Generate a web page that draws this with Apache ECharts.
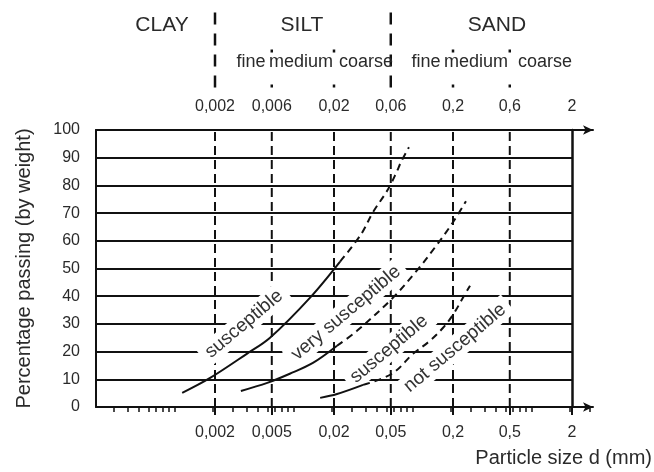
<!DOCTYPE html>
<html><head><meta charset="utf-8">
<script src="https://cdn.jsdelivr.net/npm/echarts@6/dist/echarts.min.js"></script>
<style>html,body{margin:0;padding:0;background:#fff}#c{width:654px;height:472px}</style>
</head><body><div id="c"></div>
<script>
// ---- data ----
const boundaryTicks = [0.002, 0.006, 0.02, 0.06, 0.2, 0.6, 2];
const topTickLabels = ['0,002', '0,006', '0,02', '0,06', '0,2', '0,6', '2'];
const bottomTickLabels = ['0,002', '0,005', '0,02', '0,05', '0,2', '0,5', '2'];
const majorBounds = [0.002, 0.06];
const minorBounds = [0.006, 0.02, 0.2, 0.6];
const plotBounds = [0.002, 0.006, 0.02, 0.06, 0.2, 0.6];
const soilClasses = ['CLAY', 'SILT', 'SAND'];
const subClasses = ['fine', 'medium', 'coarse', 'fine', 'medium', 'coarse'];
const zoneLabels = ['susceptible', 'very susceptible', 'susceptible', 'not susceptible'];

const curveA_solid_d = [0.00106, 0.00182, 0.0037, 0.0058, 0.0126, 0.0225];
const curveA_solid_p = [5.1, 10.5, 19.2, 25.0, 39.5, 52.5];
const curveA_dash_d = [0.0225, 0.0337, 0.0425, 0.0569, 0.0676, 0.0731, 0.0853];
const curveA_dash_p = [52.5, 62.3, 70.3, 78.6, 85.1, 88.4, 93.8];

const curveB_solid_d = [0.0033, 0.0055, 0.0085, 0.0133, 0.0212];
const curveB_solid_p = [5.8, 8.7, 12.0, 15.9, 22.1];
const curveB_dash_d = [0.0212, 0.0312, 0.0614, 0.0996, 0.141, 0.2, 0.257];
const curveB_dash_p = [22.1, 27.5, 39.1, 49.3, 57.6, 66.7, 74.3];

const curveC_solid_d = [0.0153, 0.0212, 0.0351];
const curveC_solid_p = [3.3, 4.7, 8.0];
const curveC_dash_d = [0.0351, 0.0614, 0.0923, 0.128, 0.165, 0.2, 0.243, 0.278];
const curveC_dash_p = [8.0, 12.0, 19.2, 23.9, 28.6, 33.3, 39.5, 43.8];

// ---- helpers ----
const FONT = '"Liberation Sans", Arial, sans-serif';
const INK = '#111';
const TXT = '#2a2a2a';
const pairs = (xs, ys) => xs.map((x, i) => [x, ys[i]]);
const labelFor = (labels) => (v) => {
  const i = boundaryTicks.findIndex(t => Math.abs(Math.log10(t) - Math.log10(v)) < 0.01);
  return i >= 0 ? labels[i] : '';
};
function curve(xs, ys, dashed) {
  return {
    type: 'line', xAxisIndex: 0, yAxisIndex: 0, data: pairs(xs, ys),
    smooth: 0.35, showSymbol: false, symbol: 'none', z: 4, silent: true,
    lineStyle: { color: INK, width: 2, type: dashed ? [7, 5] : 'solid' }
  };
}
function vlines(values, xi, yi, lo, hi, style, z) {
  return values.map(v => ({
    type: 'line', xAxisIndex: xi, yAxisIndex: yi, data: [[v, lo], [v, hi]], z: z, silent: true,
    symbol: 'none', showSymbol: false, lineStyle: style
  }));
}

const chart = echarts.init(document.getElementById('c'));
const rot = 40 * Math.PI / 180;
const zonePos = [[244, 324], [346, 313], [389, 349], [455, 348]];
const classPos = [[162, 25], [302, 25], [497, 25]];
const subPos = [251, 301, 366, 426, 476, 545];

chart.setOption({
  animation: false,
  backgroundColor: '#fff',
  grid: [
    { left: 96, right: 82, top: 130, bottom: 65 },
    { left: 96, right: 82, top: 4, height: 88 },
    { left: 96, right: 61, top: 130, bottom: 65 }
  ],
  xAxis: [
    { gridIndex: 0, type: 'log', min: 0.0002, max: 2, position: 'bottom',
      axisLine: { show: false }, splitLine: { show: false }, minorTick: { show: false },
      axisTick: { show: true, customValues: boundaryTicks, length: 8, lineStyle: { color: INK, width: 2 } },
      axisLabel: { customValues: boundaryTicks, formatter: labelFor(bottomTickLabels), margin: 18,
        fontSize: 16, fontFamily: FONT, color: TXT } },
    { gridIndex: 0, type: 'log', min: 0.0002, max: 2, position: 'top',
      axisLine: { show: false }, splitLine: { show: false }, axisTick: { show: false },
      axisLabel: { customValues: boundaryTicks, formatter: labelFor(topTickLabels), margin: 15,
        fontSize: 16, fontFamily: FONT, color: TXT } },
    { gridIndex: 1, type: 'log', min: 0.0002, max: 2, show: false },
    { gridIndex: 2, type: 'log', min: 0.0002, max: 3, position: 'bottom',
      axisLine: { show: true, symbol: ['none', 'arrow'], symbolSize: [7, 10], lineStyle: { color: INK, width: 2 } },
      axisTick: { show: false }, axisLabel: { show: false }, splitLine: { show: false },
      minorTick: { show: true, splitNumber: 10, length: 5, lineStyle: { color: INK, width: 1.5 } } },
    { gridIndex: 2, type: 'log', min: 0.0002, max: 3, position: 'top',
      axisLine: { show: true, symbol: ['none', 'arrow'], symbolSize: [7, 10], lineStyle: { color: INK, width: 2 } },
      axisTick: { show: false }, axisLabel: { show: false }, splitLine: { show: false } }
  ],
  yAxis: [
    { gridIndex: 0, type: 'value', min: 0, max: 100, interval: 10, position: 'left',
      name: 'Percentage passing (by weight)', nameLocation: 'middle', nameGap: 62,
      nameTextStyle: { fontSize: 20, fontFamily: FONT, color: TXT },
      axisLine: { show: true, lineStyle: { color: INK, width: 2 } },
      axisTick: { show: false },
      axisLabel: { margin: 16, fontSize: 16, fontFamily: FONT, color: TXT },
      splitLine: { show: true, lineStyle: { color: INK, width: 2 } } },
    { gridIndex: 0, type: 'value', min: 0, max: 100, position: 'right',
      axisLine: { show: true, lineStyle: { color: INK, width: 2.5 } },
      axisTick: { show: false }, axisLabel: { show: false }, splitLine: { show: false } },
    { gridIndex: 1, type: 'value', min: 0, max: 1, show: false },
    { gridIndex: 2, type: 'value', min: 0, max: 100, show: false }
  ],
  graphic: [
    ...soilClasses.map((t, i) => ({ type: 'text', x: classPos[i][0], y: classPos[i][1], z: 10,
      style: { text: t, font: '21px ' + FONT, fill: TXT, align: 'center', verticalAlign: 'middle' } })),
    ...subClasses.map((t, i) => ({ type: 'text', x: subPos[i], y: 62, z: 10,
      style: { text: t, font: '18px ' + FONT, fill: TXT, align: 'center', verticalAlign: 'middle' } })),
    ...zoneLabels.map((t, i) => ({ type: 'text', x: zonePos[i][0], y: zonePos[i][1], rotation: rot, z: 1,
      style: { text: t, font: '19px ' + FONT, fill: '#333', align: 'center', verticalAlign: 'middle',
        backgroundColor: '#fff', padding: [2, 6] } })),
    { type: 'text', right: 2, top: 448, z: 10,
      style: { text: 'Particle size d (mm)', font: '20px ' + FONT, fill: TXT } }
  ],
  series: [
    ...vlines(plotBounds, 0, 0, 0, 100, { color: INK, width: 2, type: [9, 5] }, 0),
    ...vlines(majorBounds, 2, 2, 0.05, 0.95, { color: INK, width: 2.5, type: [12, 9] }, 0),
    ...vlines(minorBounds, 2, 2, 0.05, 0.5, { color: INK, width: 2.5, type: [3, 32] }, 0),
    curve(curveA_solid_d, curveA_solid_p, false),
    curve(curveA_dash_d, curveA_dash_p, true),
    curve(curveB_solid_d, curveB_solid_p, false),
    curve(curveB_dash_d, curveB_dash_p, true),
    curve(curveC_solid_d, curveC_solid_p, false),
    curve(curveC_dash_d, curveC_dash_p, true)
  ]
});
</script>
</body></html>
